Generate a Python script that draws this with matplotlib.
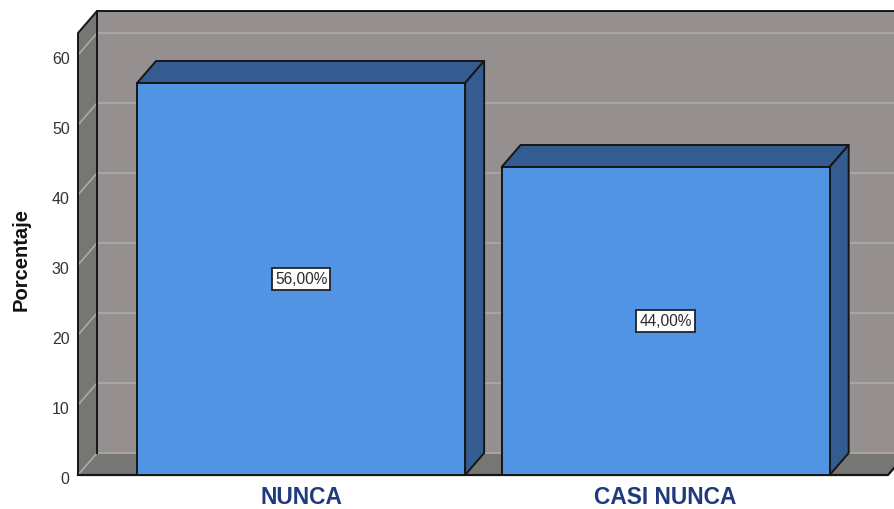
import matplotlib
matplotlib.use('Agg')
import matplotlib.pyplot as plt
from matplotlib.patches import Polygon
from matplotlib.transforms import ScaledTranslation

categories = ['NUNCA', 'CASI NUNCA']
percentages = [56.0, 44.0]
y_ticks = [0, 10, 20, 30, 40, 50, 60]

W, H = 894, 510
BAR_W = 0.9
# shift of the rear plane, in data units
DX = 0.0521
DY = 3.14
XMIN, XMAX = -0.612, 1.61
YMAX = 63.14

WALL = '#95908f'
SIDE = '#767675'
GRID = '#aeaaa8'
EDGE = '#161616'
FRONT = '#5294e4'
DARK = '#345c91'

plt.rcParams['font.family'] = ['Liberation Sans', 'DejaVu Sans']

fig = plt.figure(figsize=(W / 100, H / 100), dpi=100)
ax = fig.add_axes([78 / W, (H - 476) / H, 810 / W, 442 / H])
ax.set_xlim(XMIN, XMAX)
ax.set_ylim(0, YMAX)
ax.patch.set_visible(False)


def face(points, color, z, edge=EDGE, lw=1.4):
    ax.add_patch(Polygon(points, closed=True, facecolor=color, edgecolor=edge,
                         linewidth=lw, zorder=z, clip_on=False, joinstyle='round'))


# back wall, left wall and floor
face([(XMIN + DX, DY), (XMAX + DX, DY), (XMAX + DX, YMAX + DY), (XMIN + DX, YMAX + DY)], WALL, 1, edge='none')
face([(XMIN, 0), (XMIN + DX, DY), (XMIN + DX, YMAX + DY), (XMIN, YMAX)], SIDE, 1, edge='none')
face([(XMIN, 0), (XMAX, 0), (XMAX + DX, DY), (XMIN + DX, DY)], SIDE, 1, edge='none')

# grid lines go round the left wall and along the back
for t in y_ticks:
    ax.plot([XMIN, XMIN + DX, XMAX + DX], [t, t + DY, t + DY], color=GRID,
            lw=1.2, zorder=2, clip_on=False)

# wall outlines
ax.plot([XMIN, XMIN, XMIN + DX, XMAX + DX], [0, YMAX, YMAX + DY, YMAX + DY],
        color=EDGE, lw=1.4, zorder=3, clip_on=False)
ax.plot([XMIN + DX, XMIN + DX], [DY, YMAX + DY], color=EDGE, lw=1.4, zorder=3, clip_on=False)
ax.plot([XMIN, XMAX, XMAX + DX], [0, 0, DY], color=EDGE, lw=1.6, zorder=3, clip_on=False)

# bars: front through bar(), top and side faces share its extents
positions = list(range(len(categories)))
ax.bar(positions, percentages, width=BAR_W, color=FRONT, edgecolor=EDGE,
       linewidth=1.4, zorder=5, clip_on=False)
for x, v in zip(positions, percentages):
    l, r = x - BAR_W / 2, x + BAR_W / 2
    face([(l, v), (r, v), (r + DX, v + DY), (l + DX, v + DY)], DARK, 4)
    face([(r, 0), (r + DX, DY), (r + DX, v + DY), (r, v)], DARK, 4)
    ax.text(x, v / 2, f'{v:.2f}%'.replace('.', ','), ha='center', va='center',
            fontsize=11.2, color='#2a2a2a', zorder=7,
            bbox=dict(boxstyle='square,pad=0.2', facecolor='white', edgecolor='#222222', linewidth=1.3))

for s in ax.spines.values():
    s.set_visible(False)

ax.set_yticks(y_ticks)
ax.set_xticks(positions)
ax.set_xticklabels(categories, fontsize=16.4, fontweight='bold', color='#1f3a7d')
ax.tick_params(axis='y', length=0, pad=6, labelsize=11.5, labelcolor='#333333')
ax.tick_params(axis='x', length=0, pad=7)
# numbers sit slightly under their grid level
down = ScaledTranslation(0, -2 / 100, fig.dpi_scale_trans)
for lab in ax.get_yticklabels():
    lab.set_transform(lab.get_transform() + down)
ax.set_ylabel('Porcentaje', fontsize=14.5, fontweight='bold', color='#111111')
ax.yaxis.set_label_coords(-0.058, 0.49)

fig.savefig('out.png', dpi=100)
